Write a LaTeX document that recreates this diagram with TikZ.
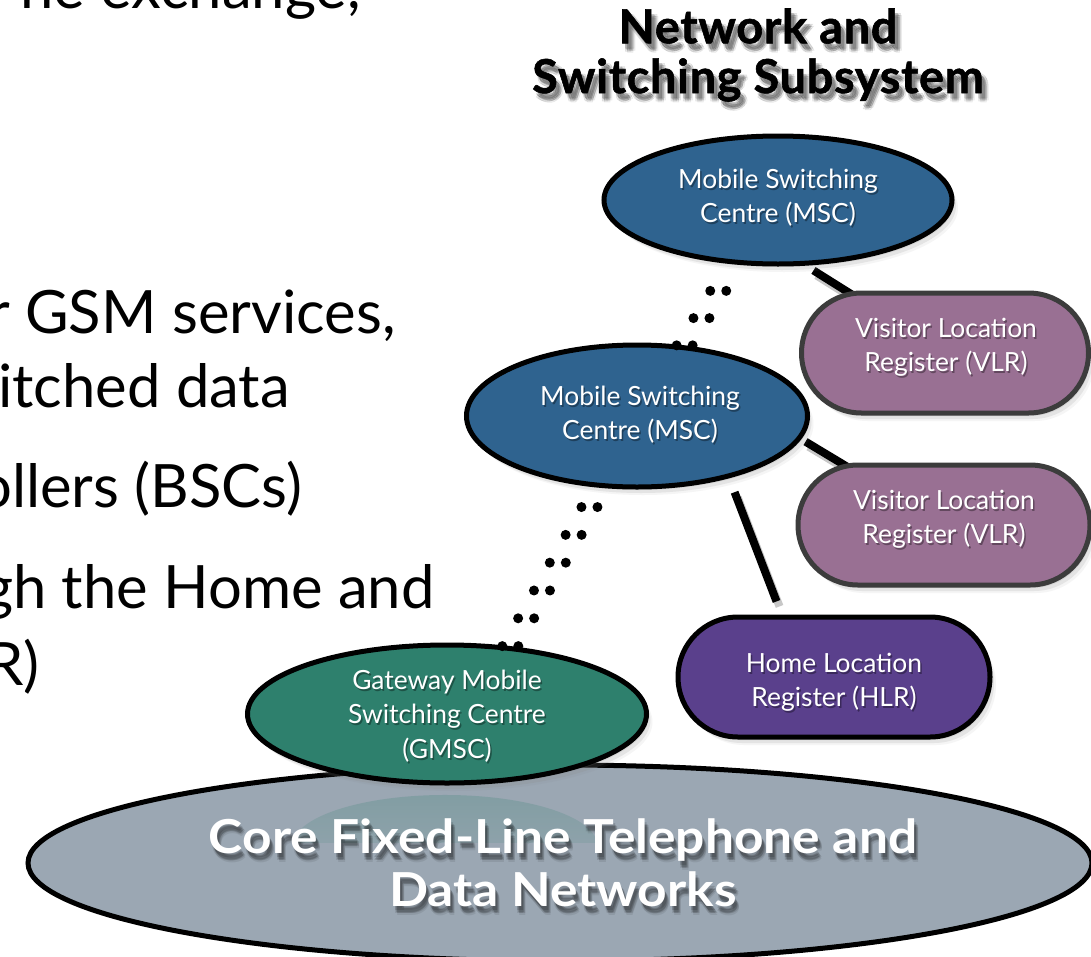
\documentclass[tikz,border=0pt]{standalone}
\usepackage{fontspec}
\setmainfont{Lato}
\newfontfamily\labelfont{Lato}
\newfontfamily\headfont{Lato}[FakeBold=1.2, LetterSpace=1.5]
\newfontfamily\corefont{Lato}[FakeStretch=1.1]
\usetikzlibrary{shapes.geometric,shapes.misc,shadows,calc,fadings}

\definecolor{mscblue}{RGB}{47,99,143}
\definecolor{vlrmauve}{RGB}{153,112,147}
\definecolor{hlrpurple}{RGB}{90,64,140}
\definecolor{gmscgreen}{RGB}{46,128,109}
\definecolor{corefill}{RGB}{155,167,179}
\definecolor{vlrborder}{RGB}{60,60,60}

\pgfdeclarelayer{links}
\pgfsetlayers{links,main}

\tikzset{
  softshadow/.style={
      drop shadow={shadow xshift=2bp, shadow yshift=-3bp, opacity=0.14},
      drop shadow={shadow xshift=4bp, shadow yshift=-6bp, opacity=0.14},
      drop shadow={shadow xshift=6bp, shadow yshift=-8bp, opacity=0.08}},
  flatoval/.style={ellipse, draw=black, line width=5bp, inner sep=0pt},
  oval/.style={flatoval, softshadow},
  pill/.style={rounded rectangle, line width=5bp, inner sep=0pt, softshadow},
  lbl/.style={text=white, align=center, inner sep=0pt,
      font=\labelfont\fontsize{26.5}{34.5}\selectfont},
  bullet/.style={anchor=base west, inner sep=0pt, text=black,
      font=\fontsize{60}{70}\selectfont},
  headtext/.style={align=center, inner sep=0pt, text=black,
      font=\headfont\bfseries\fontsize{47}{50}\selectfont},
  coretext/.style={align=center, inner sep=0pt, text=white,
      font=\corefont\bfseries\fontsize{47}{53}\selectfont},
  link/.style={line width=8bp, draw=black},
  linkshadow/.style={line width=8bp, draw=black, draw opacity=0.22,
      transform canvas={xshift=3bp, yshift=-5bp}},
  dotchain/.style={line width=10bp, draw=black, line cap=round,
      dash pattern=on 0bp off 32bp},
}

% text with a soft offset shadow drawn underneath it
\newcommand\shadedtext[6]{%
  % #1 name, #2 position, #3 style, #4 shadow colour, #5 dx/dy/opacity list, #6 text
  \foreach \sx/\sy/\so [count=\k] in {#5}
    \node[#3, text=#4, text opacity=\so] (#1-sh\k) at ($#2+(\sx,\sy)$) {#6};
  \node[#3] (#1) at #2 {#6};
}

\begin{document}
\begin{tikzpicture}[x=1bp, y=-1bp]
\useasboundingbox (0,0) rectangle (1091,957);
\begin{pgfonlayer}{links}
  \fill[white] (0,0) rectangle (1091,957);
\end{pgfonlayer}
\clip (0,0) rectangle (1091,957);

% slide text running in from the left
\node[bullet] (b1) at (20,8) {ne exchange,};
\node[bullet] (b2) at (-12,333) {r GSM services,};
\node[bullet] (b3) at (-2,407) {itched data};
\node[bullet] (b4) at (-22,507) {ollers (BSCs)};
\node[bullet] (b5) at (-18,608) {gh the Home and};
\node[bullet] (b6) at (-14,685) {R)};

% heading
\shadedtext{head}{(758,55)}{headtext}{black}
  {3/5/0.10, 4/6/0.10, 5/7/0.10, 3/8/0.08, 6/5/0.08, 5/9/0.06, 7/7/0.06}
  {Network and\\Switching Subsystem}

% core network
\node[flatoval, fill=corefill, minimum width=1064bp, minimum height=196bp] (core) at (560,863) {};
\begin{scope}
  \clip (290,790) rectangle (600,842);
  \fill[gmscgreen!50!corefill, opacity=0.45, path fading=south] (445,845) ellipse [x radius=152, y radius=50];
\end{scope}
\shadedtext{coretxt}{(563,863)}{coretext}{black}
  {2/4/0.14, 3/6/0.14, 4/7/0.12, 2/7/0.10, 4/9/0.08}
  {Core Fixed-Line Telephone and\\Data Networks}

% switching nodes
\node[oval, fill=gmscgreen, minimum width=399bp, minimum height=138bp] (gmsc) at (447,714) {};
\node[oval, fill=mscblue, minimum width=341bp, minimum height=142bp] (msc2) at (637,416) {};
\node[oval, fill=mscblue, minimum width=348bp, minimum height=128bp] (msc1) at (778,200) {};
\node[pill, fill=vlrmauve, draw=vlrborder, minimum width=287bp, minimum height=120bp] (vlr1) at (945,353) {};
\node[pill, fill=vlrmauve, draw=vlrborder, minimum width=292bp, minimum height=120bp] (vlr2) at (944,525) {};
\node[pill, fill=hlrpurple, draw=black, minimum width=312bp, minimum height=120bp] (hlr) at (834,677) {};

% labels
\shadedtext{gmsc-l}{(447,716)}{lbl}{black}{1.5/2/0.35}{Gateway Mobile\\Switching Centre\\(GMSC)}
\shadedtext{msc2-l}{(640,415)}{lbl}{black}{1.5/2/0.35}{Mobile Switching\\Centre (MSC)}
\shadedtext{msc1-l}{(778,198)}{lbl}{black}{1.5/2/0.35}{Mobile Switching\\Centre (MSC)}
\shadedtext{vlr1-l}{(946,347)}{lbl}{black}{1.5/2/0.35}{Visitor Location\\Register (VLR)}
\shadedtext{vlr2-l}{(944,519)}{lbl}{black}{1.5/2/0.35}{Visitor Location\\Register (VLR)}
\shadedtext{hlr-l}{(834,682)}{lbl}{black}{1.5/2/0.35}{Home Location\\Register (HLR)}

% solid links, kept beneath the nodes
\begin{pgfonlayer}{links}
  \draw[linkshadow, shorten <=9bp] (msc1.-67) -- (vlr1.center);
  \draw[link, shorten <=9bp] (msc1.-67) -- (vlr1.center);
  \draw[linkshadow, shorten <=5bp] (msc2.-8) -- (vlr2.center);
  \draw[link, shorten <=5bp] (msc2.-8) -- (vlr2.center);
  \draw[linkshadow, shorten <=15bp, shorten >=14bp] (msc2.-34) -- (hlr.130);
  \draw[link, shorten <=15bp, shorten >=14bp] (msc2.-34) -- (hlr.130);
\end{pgfonlayer}

% dotted double links between the switching centres
\draw[dotchain, transform canvas={xshift=-8bp}] (gmsc.47) -- (msc2.243);
\draw[dotchain, transform canvas={xshift=8bp}] (gmsc.47) -- (msc2.243);
\draw[dotchain, shorten >=12bp, transform canvas={xshift=-8bp}] (msc2.56) -- (msc1.236);
\draw[dotchain, shorten >=12bp, transform canvas={xshift=8bp}] (msc2.56) -- (msc1.236);
\end{tikzpicture}
\end{document}
